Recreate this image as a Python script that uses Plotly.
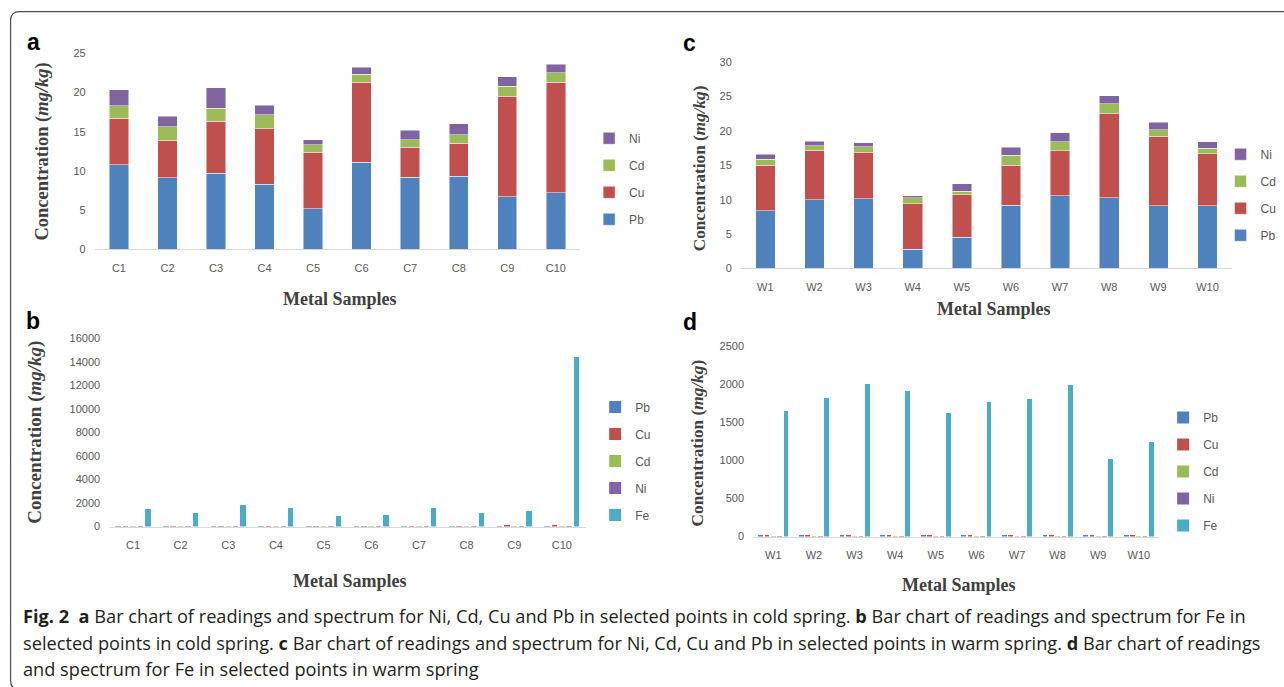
import plotly.graph_objects as go

# ---------------- data ----------------
cold_sites = ["C1", "C2", "C3", "C4", "C5", "C6", "C7", "C8", "C9", "C10"]
warm_sites = ["W1", "W2", "W3", "W4", "W5", "W6", "W7", "W8", "W9", "W10"]

cold_pb = [10.8, 9.1, 9.7, 8.3, 5.2, 11.1, 9.2, 9.3, 6.7, 7.2]
cold_cu = [5.9, 4.8, 6.6, 7.1, 7.2, 10.2, 3.8, 4.2, 12.8, 14.1]
cold_cd = [1.6, 1.7, 1.7, 1.75, 0.95, 1.0, 0.95, 1.1, 1.3, 1.2]
cold_ni = [2.05, 1.4, 2.6, 1.25, 0.65, 0.9, 1.25, 1.4, 1.2, 1.1]
cold_fe = [1480, 1190, 1820, 1620, 910, 1000, 1620, 1190, 1310, 14440]

warm_pb = [8.4, 10.0, 10.15, 2.8, 4.5, 9.2, 10.6, 10.3, 9.1, 9.1]
warm_cu = [6.6, 7.2, 6.75, 6.6, 6.2, 5.8, 6.5, 12.2, 10.1, 7.6]
warm_cd = [0.85, 0.65, 0.8, 0.85, 0.5, 1.5, 1.35, 1.45, 0.95, 0.8]
warm_ni = [0.75, 0.65, 0.55, 0.35, 1.15, 1.15, 1.3, 1.15, 1.1, 0.95]
warm_fe = [1650, 1820, 2005, 1915, 1625, 1770, 1815, 1990, 1015, 1245]

metal_names = ["Pb", "Cu", "Cd", "Ni", "Fe"]
colors = {"Pb": "#4F81BD", "Cu": "#C0504D", "Cd": "#9BBB59", "Ni": "#8064A2", "Fe": "#4BACC6"}

caption_lines = [
    "<b>Fig. 2</b>  <b>a</b> Bar chart of readings and spectrum for Ni, Cd, Cu and Pb in selected points in cold spring. "
    "<b>b</b> Bar chart of readings and spectrum for Fe in",
    "selected points in cold spring. <b>c</b> Bar chart of readings and spectrum for Ni, Cd, Cu and Pb in selected points in warm spring. "
    "<b>d</b> Bar chart of readings",
    "and spectrum for Fe in selected points in warm spring",
]

# ---------------- layout helpers ----------------
W, H = 1294, 694
SX, SY, AY = 0.993, 0.982, 5.8   # compensation for the capture geometry


def px(x):
    return (x / SX) / W


def py(y):
    return 1 - ((y - AY) / SY) / H


TICK_FONT = dict(family="Liberation Sans, Arial, sans-serif", size=11, color="#595959")
LEG_FONT = dict(family="Liberation Sans, Arial, sans-serif", size=12, color="#595959")
SERIF = "Liberation Serif, Times New Roman, serif"

fig = go.Figure()

cold = {"Pb": cold_pb, "Cu": cold_cu, "Cd": cold_cd, "Ni": cold_ni, "Fe": cold_fe}
warm = {"Pb": warm_pb, "Cu": warm_cu, "Cd": warm_cd, "Ni": warm_ni, "Fe": warm_fe}

stack_rank = {"Ni": 1, "Cd": 2, "Cu": 3, "Pb": 4}

# panels a and c: stacked bars
for sites, data, xa, ya, leg in [(cold_sites, cold, "x", "y", "legend"),
                                 (warm_sites, warm, "x3", "y3", "legend3")]:
    for m in ["Pb", "Cu", "Cd", "Ni"]:
        fig.add_trace(go.Bar(
            x=sites, y=data[m], name=m, xaxis=xa, yaxis=ya, legend=leg,
            legendgroup=leg + m, legendrank=stack_rank[m], width=0.4,
            marker=dict(color=colors[m], line=dict(color="rgba(255,255,255,0.8)", width=0.6)),
            offsetgroup=leg + "stack",
        ))

# panels b and d: clustered bars (5 series per site)
slot = 0.155
for sites, data, xa, ya, leg in [(cold_sites, cold, "x2", "y2", "legend2"),
                                 (warm_sites, warm, "x4", "y4", "legend4")]:
    for i, m in enumerate(metal_names):
        fig.add_trace(go.Bar(
            x=sites, y=data[m], name=m, xaxis=xa, yaxis=ya, legend=leg,
            legendgroup=leg + m, legendrank=i + 1, offsetgroup=leg + m,
            width=slot * 0.75, offset=-2.5 * slot + i * slot + 0.125 * slot,
            marker=dict(color=colors[m], line=dict(width=0)),
        ))

panels = {
    # name: (x0, x1, ybottom, ytop, range, dtick)
    "": (94, 576, 249, 53, [0, 25], 5),
    "2": (108.4, 581.6, 526, 338, [0, 16000], 2000),
    "3": (735.6, 1223.4, 268, 62, [0, 30], 5),
    "4": (747.8, 1151, 536, 346, [0, 2500], 500),
}

for k, (x0, x1, yb, yt, rng, dt) in panels.items():
    fig.layout["xaxis" + k] = dict(
        domain=[px(x0), px(x1)], anchor="y" + k, type="category",
        showgrid=False, showline=True, linecolor="#D9D9D9", linewidth=1,
        ticks="", tickfont=TICK_FONT, ticklabelstandoff=8, zeroline=False,
    )
    fig.layout["yaxis" + k] = dict(
        domain=[py(yb), py(yt)], anchor="x" + k, range=rng, dtick=dt,
        tickformat="d", showgrid=False, showline=False, zeroline=False,
        ticks="", tickfont=TICK_FONT, ticklabelstandoff=8,
    )

legend_common = dict(font=LEG_FONT, bgcolor="rgba(0,0,0,0)", borderwidth=0,
                     xanchor="left", yanchor="top", tracegroupgap=8,
                     itemwidth=30, traceorder="grouped")
fig.update_layout(
    legend=dict(x=px(585), y=py(123.5), **legend_common),
    legend2=dict(x=px(591), y=py(392), **legend_common),
    legend3=dict(x=px(1212), y=py(139.5), **legend_common),
    legend4=dict(x=px(1155), y=py(402.5), **legend_common),
)

annotations = []
# y titles
for (xc, yc, size) in [(42, 151, 18.5), (34, 432, 19), (694, 168, 17.2), (693, 442, 17.3)]:
    annotations.append(dict(
        text="<b>Concentration (<i>mg/kg</i>)</b>", x=px(xc), y=py(yc), xref="paper", yref="paper",
        textangle=-90, showarrow=False, xanchor="center", yanchor="middle",
        font=dict(family=SERIF, size=size, color="#404040"),
    ))
# x titles
for (xc, yc) in [(337, 299), (347, 580), (987, 309), (952, 584)]:
    annotations.append(dict(
        text="<b>Metal Samples</b>", x=px(xc), y=py(yc), xref="paper", yref="paper",
        showarrow=False, xanchor="center", yanchor="middle",
        font=dict(family=SERIF, size=18, color="#404040"),
    ))
# panel letters
for (lab, xc, yc) in [("a", 33, 42), ("b", 33, 321), ("c", 685, 43), ("d", 685, 322)]:
    annotations.append(dict(
        text="<b>" + lab + "</b>", x=px(xc), y=py(yc), xref="paper", yref="paper",
        showarrow=False, xanchor="center", yanchor="middle",
        font=dict(family="Liberation Sans, Arial, sans-serif", size=23, color="#000000"),
    ))
# caption
for line, yc in zip(caption_lines, [615, 642, 668]):
    annotations.append(dict(
        text=line, x=px(21), y=py(yc), xref="paper", yref="paper",
        showarrow=False, xanchor="left", yanchor="middle", align="left",
        font=dict(family="Open Sans, Liberation Sans, sans-serif", size=18.2, color="#231F20"),
    ))

# rounded frame around the figure
r = 9
frame = (f"M {px(1320)},{py(11.5)} L {px(10.5 + r)},{py(11.5)} "
         f"Q {px(10.5)},{py(11.5)} {px(10.5)},{py(11.5 + r)} "
         f"L {px(10.5)},{py(689 - r)} Q {px(10.5)},{py(689)} {px(10.5 + r)},{py(689)} "
         f"L {px(1320)},{py(689)}")

fig.update_layout(
    width=W, height=H, margin=dict(l=0, r=0, t=0, b=0),
    paper_bgcolor="white", plot_bgcolor="white",
    barmode="stack", bargap=0.6,
    annotations=annotations,
    shapes=[dict(type="path", path=frame, xref="paper", yref="paper",
                 line=dict(color="#4d4d4d", width=1.2))],
    showlegend=True,
)

fig.write_html(
    "out.html",
    config={"displayModeBar": False},
    post_script="document.body.style.margin='0';document.body.style.overflow='hidden';",
)
